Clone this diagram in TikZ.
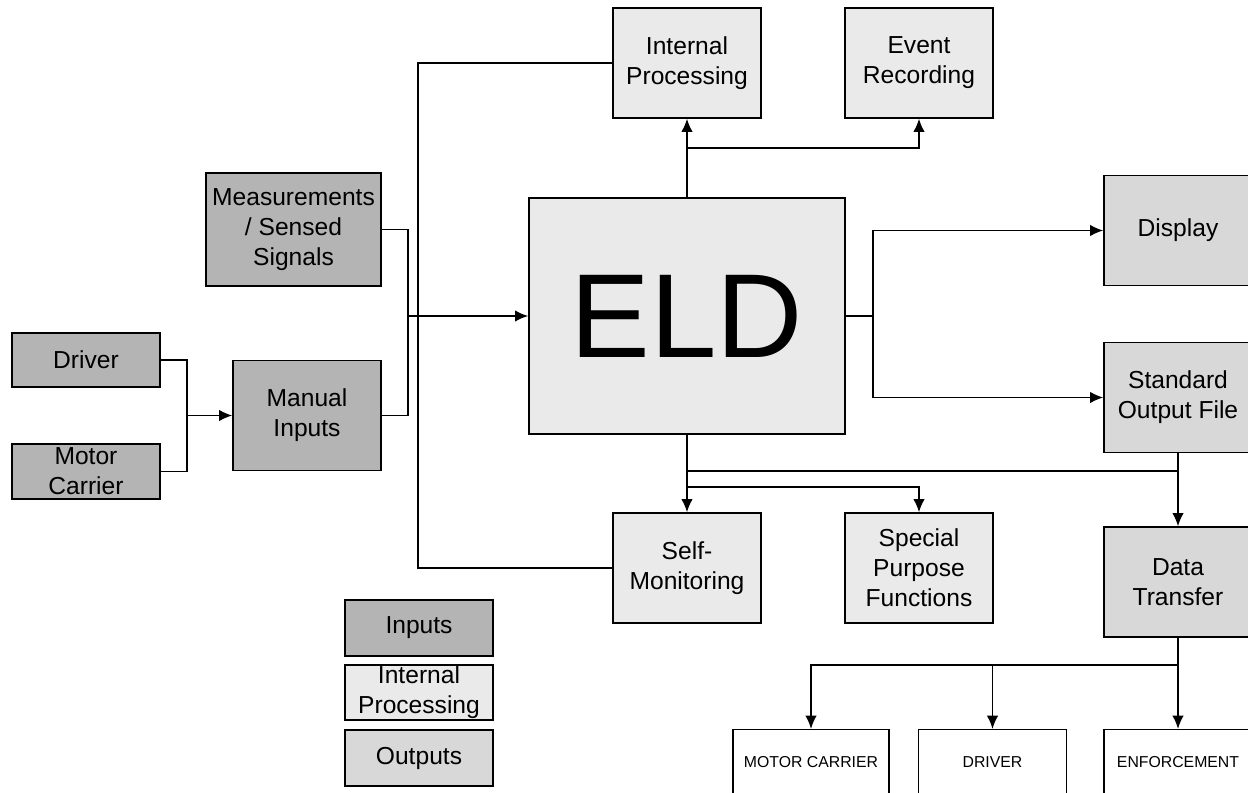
\documentclass[tikz,border=0pt]{standalone}
\usepackage{fontspec}
\setmainfont{Liberation Sans}
\usetikzlibrary{arrows,arrows.meta,positioning,calc}
\definecolor{inpgray}{RGB}{180,180,180}
\definecolor{intgray}{RGB}{234,234,234}
\definecolor{outgray}{RGB}{216,216,216}

\begin{document}
\begin{tikzpicture}[x=0.02cm,y=-0.02cm,
  box/.style={draw, rectangle, line width=0.8pt, minimum width=2.96cm, minimum height=2.2cm,
    align=center, inner sep=1pt, font=\fontsize{14}{17}\selectfont},
  inbox/.style={box, fill=inpgray},
  intbox/.style={box, fill=intgray},
  outbox/.style={box, fill=outgray},
  sink/.style={draw, rectangle, line width=0.7pt, minimum width=2.96cm, minimum height=1.3cm,
    fill=white, font=\fontsize{9}{11}\selectfont},
  wire/.style={line width=0.9pt},
  arr/.style={wire,-{Latex[length=7.5pt,width=6.5pt]}},
]
\useasboundingbox (0,0) rectangle (1248,793);

% inputs
\node (meas) [inbox, minimum width=3.5cm, minimum height=2.26cm] at (293.5,229.5) {Measurements\\/ Sensed\\Signals};
\node (driver) [inbox, minimum height=1.08cm] at (86,360) {Driver};
\node (carrier) [inbox, minimum height=1.1cm, inner sep=0pt] at (86,471.5) {Motor\\Carrier};
\node (manual) [inbox] at (307,415.5) {Manual\\Inputs};

% internal processing
\node (eld) [intbox, minimum width=6.32cm, minimum height=4.72cm, font=\fontsize{68}{70}\selectfont] at (687,316) {ELD};
\node (internal) [intbox] at (687,63) {Internal\\Processing};
\node (event) [intbox] at (919,63) {Event\\Recording};
\node (selfmon) [intbox] at (687,568) {Self-\\Monitoring};
\node (special) [intbox] at (919,568) {Special\\Purpose\\Functions};

% outputs
\node (display) [outbox] at (1178,230.5) {Display};
\node (sof) [outbox] at (1178,397.5) {Standard\\Output File};
\node (transfer) [outbox] at (1178,582) {Data\\Transfer};

\node (outcarrier) [sink, minimum width=3.12cm] at (811,762) {MOTOR CARRIER};
\node (outdriver) [sink] at (992.5,762) {DRIVER};
\node (outenf) [sink] at (1178,762) {ENFORCEMENT};

% legend
\node (leginp) [inbox, minimum height=1.12cm] at (419,628) {Inputs};
\node (legint) [intbox, minimum height=1.1cm, inner sep=0pt] at (419,692.5) {Internal\\Processing};
\node (legout) [outbox, minimum height=1.12cm] at (419,758) {Outputs};

% junctions
\coordinate (jdrv) at (187,415.5);
\coordinate (jin) at (408,316);
\coordinate (fb) at (418,0);
\coordinate (jtop) at (687,148);
\coordinate (jout) at (873,316);
\coordinate (jbot1) at (687,471);
\coordinate (jbot2) at (687,487);
\coordinate (jxfer) at (1178,665);

\draw[wire] (driver.east) -| (jdrv) |- (carrier.east);
\draw[arr] (jdrv) -- (manual.west);
\draw[wire] (meas.east) -| (jin) |- (manual.east);
\draw[arr, line width=1.2pt] (jin) -- (eld.west);

\draw[wire] (internal.west) -| (fb |- selfmon.west) -- (selfmon.west);

\draw[arr] (eld.north) -- (internal.south);
\draw[arr] (jtop) -| (event.south);

\draw[wire] (eld.east) -- (jout);
\draw[arr] (jout) |- (display.west);
\draw[arr] (jout) |- (sof.west);

\draw[arr] (eld.south) -- (selfmon.north);
\draw[arr] (jbot2) -| (special.north);
\draw[wire] (jbot1) -- (sof.south |- jbot1);
\draw[arr] (sof.south) -- (transfer.north);

\draw[wire] (transfer.south) -- (jxfer);
\draw[arr] (jxfer) -| (outcarrier.north);
\draw[arr] (jxfer) -| (outdriver.north);
\draw[arr] (jxfer) -- (outenf.north);

\end{tikzpicture}
\end{document}
